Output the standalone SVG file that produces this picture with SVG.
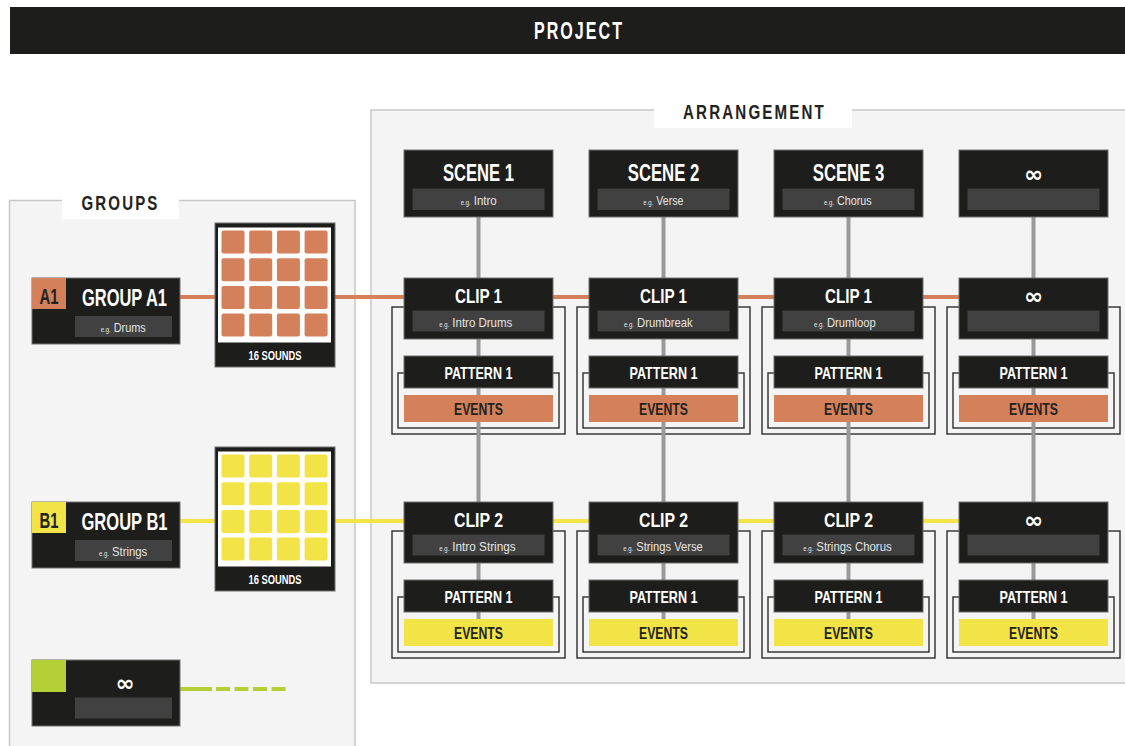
<svg xmlns="http://www.w3.org/2000/svg" xmlns:xlink="http://www.w3.org/1999/xlink" width="1125" height="746" viewBox="0 0 1125 746">
<style>
.node{fill:#1d1d1b;stroke:#707070;stroke-width:1}
.sub{fill:#414141}
.panel{fill:#f4f4f4;stroke:#c8c8c8;stroke-width:1.5}
.lbl{fill:#ffffff}
.t{font-family:"Liberation Sans",Arial,sans-serif;font-weight:bold;fill:#ffffff;text-anchor:middle}
.dk{fill:#222220}
.s{font-family:"Liberation Sans",Arial,sans-serif;fill:#e4e4e4;text-anchor:start;font-size:13px}
.eg{font-family:"Liberation Sans",Arial,sans-serif;fill:#e4e4e4;text-anchor:start;font-size:8px}
.ol{fill:none;stroke:#3a3a3a;stroke-width:1.5}
.inf{font-family:"DejaVu Sans",sans-serif;font-weight:bold;fill:#ffffff;text-anchor:middle;font-size:23px}
.vc{stroke:#999999;stroke-width:4}
.or{fill:#d4805a}
.ye{fill:#f2e447}
.li{fill:#b5cf36}
.white{fill:#ffffff}
</style>
<defs>
<g id="padgrid">
<rect x="3.5" y="3" width="23" height="23" rx="2"/><rect x="31.2" y="3" width="23" height="23" rx="2"/><rect x="58.9" y="3" width="23" height="23" rx="2"/><rect x="86.6" y="3" width="23" height="23" rx="2"/>
<rect x="3.5" y="30.7" width="23" height="23" rx="2"/><rect x="31.2" y="30.7" width="23" height="23" rx="2"/><rect x="58.9" y="30.7" width="23" height="23" rx="2"/><rect x="86.6" y="30.7" width="23" height="23" rx="2"/>
<rect x="3.5" y="58.4" width="23" height="23" rx="2"/><rect x="31.2" y="58.4" width="23" height="23" rx="2"/><rect x="58.9" y="58.4" width="23" height="23" rx="2"/><rect x="86.6" y="58.4" width="23" height="23" rx="2"/>
<rect x="3.5" y="86.1" width="23" height="23" rx="2"/><rect x="31.2" y="86.1" width="23" height="23" rx="2"/><rect x="58.9" y="86.1" width="23" height="23" rx="2"/><rect x="86.6" y="86.1" width="23" height="23" rx="2"/>
</g>
</defs>
<rect x="0" y="0" width="1125" height="746" fill="#ffffff"/>

<g id="project">
<rect x="10" y="7" width="1120" height="47" fill="#1d1d1b"/>
<text class="t" x="579" y="39" font-size="24" letter-spacing="3" textLength="90" lengthAdjust="spacingAndGlyphs">PROJECT</text>
</g>

<g id="groups-panel">
<rect class="panel" x="9.5" y="200.5" width="345.5" height="570"/>
<rect class="lbl" x="62" y="188" width="117" height="31"/>
<text class="t dk" x="120.5" y="210" font-size="21" letter-spacing="3" textLength="78" lengthAdjust="spacingAndGlyphs">GROUPS</text>
</g>

<g id="arrangement-panel">
<rect class="panel" x="371" y="110" width="770" height="573"/>
<rect class="lbl" x="654" y="97" width="198" height="31"/>
<text class="t dk" x="754.5" y="119" font-size="21" letter-spacing="3" textLength="143" lengthAdjust="spacingAndGlyphs">ARRANGEMENT</text>
</g>

<g id="clip-outlines">
<rect class="ol" x="392" y="307" width="173" height="127"/><rect class="ol" x="398" y="373" width="161" height="55"/>
<rect class="ol" x="577" y="307" width="173" height="127"/><rect class="ol" x="583" y="373" width="161" height="55"/>
<rect class="ol" x="762" y="307" width="173" height="127"/><rect class="ol" x="768" y="373" width="161" height="55"/>
<rect class="ol" x="947" y="307" width="173" height="127"/><rect class="ol" x="953" y="373" width="161" height="55"/>
<rect class="ol" x="392" y="531" width="173" height="127"/><rect class="ol" x="398" y="597" width="161" height="55"/>
<rect class="ol" x="577" y="531" width="173" height="127"/><rect class="ol" x="583" y="597" width="161" height="55"/>
<rect class="ol" x="762" y="531" width="173" height="127"/><rect class="ol" x="768" y="597" width="161" height="55"/>
<rect class="ol" x="947" y="531" width="173" height="127"/><rect class="ol" x="953" y="597" width="161" height="55"/>
</g>

<g id="connectors">
<line class="vc" x1="478.5" y1="217" x2="478.5" y2="630"/>
<line class="vc" x1="663.5" y1="217" x2="663.5" y2="630"/>
<line class="vc" x1="848.5" y1="217" x2="848.5" y2="630"/>
<line class="vc" x1="1033.5" y1="217" x2="1033.5" y2="630"/>
<line x1="180" y1="297" x2="960" y2="297" stroke="#d4805a" stroke-width="4"/>
<line x1="180" y1="521" x2="960" y2="521" stroke="#f2e447" stroke-width="4"/>
<line x1="180" y1="689" x2="212" y2="689" stroke="#b5cf36" stroke-width="4"/>
<line x1="216" y1="689" x2="287" y2="689" stroke="#b5cf36" stroke-width="4" stroke-dasharray="14 4.5"/>
</g>

<g id="group-a1">
<rect class="node" x="32" y="278" width="148" height="66"/>
<rect class="or" x="32" y="278" width="34" height="31"/>
<text class="t dk" x="49" y="304" font-size="22" textLength="19" lengthAdjust="spacingAndGlyphs">A1</text>
<text class="t" x="124.5" y="306" font-size="23" textLength="85" lengthAdjust="spacingAndGlyphs">GROUP A1</text>
<rect class="sub" x="75" y="316" width="97" height="21"/>
<text class="eg" x="100.7" y="332" textLength="10" lengthAdjust="spacingAndGlyphs">e.g.</text>
<text class="s" x="113.7" y="332" textLength="32" lengthAdjust="spacingAndGlyphs">Drums</text>
</g>

<g id="sounds-a1">
<rect class="node" x="215" y="223" width="120" height="144"/>
<rect class="white" x="218" y="227.5" width="113" height="115"/>
<use xlink:href="#padgrid" x="218" y="227.5" fill="#d4805a"/>
<text class="t" x="275" y="360" font-size="12.5" textLength="53" lengthAdjust="spacingAndGlyphs">16 SOUNDS</text>
</g>

<g id="group-b1">
<rect class="node" x="32" y="502" width="148" height="66"/>
<rect class="ye" x="32" y="502" width="34" height="31"/>
<text class="t dk" x="49" y="528" font-size="22" textLength="19" lengthAdjust="spacingAndGlyphs">B1</text>
<text class="t" x="124.5" y="530" font-size="23" textLength="86" lengthAdjust="spacingAndGlyphs">GROUP B1</text>
<rect class="sub" x="75" y="540" width="97" height="21"/>
<text class="eg" x="99" y="556" textLength="10" lengthAdjust="spacingAndGlyphs">e.g.</text>
<text class="s" x="112" y="556" textLength="35.3" lengthAdjust="spacingAndGlyphs">Strings</text>
</g>

<g id="sounds-b1">
<rect class="node" x="215" y="447" width="120" height="144"/>
<rect class="white" x="218" y="451.5" width="113" height="115"/>
<use xlink:href="#padgrid" x="218" y="451.5" fill="#f2e447"/>
<text class="t" x="275" y="584" font-size="12.5" textLength="53" lengthAdjust="spacingAndGlyphs">16 SOUNDS</text>
</g>

<g id="group-more">
<rect class="node" x="32" y="660" width="148" height="66"/>
<rect class="li" x="32" y="660" width="34" height="32"/>
<text class="inf" x="125" y="691">∞</text>
<rect class="sub" x="75" y="697.5" width="97" height="21"/>
</g>

<g id="scene-1">
<rect class="node" x="404" y="150" width="149" height="67"/>
<rect class="sub" x="412.5" y="188.5" width="132" height="21.5"/>
<text class="t" x="478.5" y="181" font-size="24" textLength="71" lengthAdjust="spacingAndGlyphs">SCENE 1</text>
<text class="eg" x="460.7" y="205" textLength="10" lengthAdjust="spacingAndGlyphs">e.g.</text>
<text class="s" x="473.7" y="205" textLength="23" lengthAdjust="spacingAndGlyphs">Intro</text>
</g>
<g id="scene-2">
<rect class="node" x="589" y="150" width="149" height="67"/>
<rect class="sub" x="597.5" y="188.5" width="132" height="21.5"/>
<text class="t" x="663.5" y="181" font-size="24" textLength="71.5" lengthAdjust="spacingAndGlyphs">SCENE 2</text>
<text class="eg" x="643.3" y="205" textLength="10" lengthAdjust="spacingAndGlyphs">e.g.</text>
<text class="s" x="656.3" y="205" textLength="27" lengthAdjust="spacingAndGlyphs">Verse</text>
</g>
<g id="scene-3">
<rect class="node" x="774" y="150" width="149" height="67"/>
<rect class="sub" x="782.5" y="188.5" width="132" height="21.5"/>
<text class="t" x="848.5" y="181" font-size="24" textLength="71.5" lengthAdjust="spacingAndGlyphs">SCENE 3</text>
<text class="eg" x="824" y="205" textLength="10" lengthAdjust="spacingAndGlyphs">e.g.</text>
<text class="s" x="837" y="205" textLength="34.7" lengthAdjust="spacingAndGlyphs">Chorus</text>
</g>
<g id="scene-more">
<rect class="node" x="959" y="150" width="149" height="67"/>
<rect class="sub" x="967.5" y="188.5" width="132" height="21.5"/>
<text class="inf" x="1033.5" y="182">∞</text>
</g>

<g id="clip-a1-1">
<rect class="node" x="404" y="278" width="149" height="61"/>
<rect class="sub" x="412.5" y="310.5" width="132" height="21"/>
<text class="t" x="478.5" y="302.5" font-size="20" textLength="47" lengthAdjust="spacingAndGlyphs">CLIP 1</text>
<text class="eg" x="439.3" y="326.5" textLength="10" lengthAdjust="spacingAndGlyphs">e.g.</text>
<text class="s" x="452.3" y="326.5" textLength="60" lengthAdjust="spacingAndGlyphs">Intro Drums</text>
</g>
<g id="clip-a1-2">
<rect class="node" x="589" y="278" width="149" height="61"/>
<rect class="sub" x="597.5" y="310.5" width="132" height="21"/>
<text class="t" x="663.5" y="302.5" font-size="20" textLength="47" lengthAdjust="spacingAndGlyphs">CLIP 1</text>
<text class="eg" x="624" y="326.5" textLength="10" lengthAdjust="spacingAndGlyphs">e.g.</text>
<text class="s" x="637" y="326.5" textLength="55.7" lengthAdjust="spacingAndGlyphs">Drumbreak</text>
</g>
<g id="clip-a1-3">
<rect class="node" x="774" y="278" width="149" height="61"/>
<rect class="sub" x="782.5" y="310.5" width="132" height="21"/>
<text class="t" x="848.5" y="302.5" font-size="20" textLength="47" lengthAdjust="spacingAndGlyphs">CLIP 1</text>
<text class="eg" x="814" y="326.5" textLength="10" lengthAdjust="spacingAndGlyphs">e.g.</text>
<text class="s" x="827" y="326.5" textLength="48.7" lengthAdjust="spacingAndGlyphs">Drumloop</text>
</g>
<g id="clip-a1-more">
<rect class="node" x="959" y="278" width="149" height="61"/>
<rect class="sub" x="967.5" y="310.5" width="132" height="21"/>
<text class="inf" x="1033.5" y="303.5">∞</text>
</g>

<g id="pattern-a1-1">
<rect class="node" x="404" y="356" width="149" height="32"/>
<text class="t" x="478.5" y="379" font-size="17" textLength="68" lengthAdjust="spacingAndGlyphs">PATTERN 1</text>
<rect class="or" x="404" y="395" width="149" height="27"/>
<text class="t dk" x="478.5" y="415" font-size="17" textLength="49" lengthAdjust="spacingAndGlyphs">EVENTS</text>
</g>
<g id="pattern-a1-2">
<rect class="node" x="589" y="356" width="149" height="32"/>
<text class="t" x="663.5" y="379" font-size="17" textLength="68" lengthAdjust="spacingAndGlyphs">PATTERN 1</text>
<rect class="or" x="589" y="395" width="149" height="27"/>
<text class="t dk" x="663.5" y="415" font-size="17" textLength="49" lengthAdjust="spacingAndGlyphs">EVENTS</text>
</g>
<g id="pattern-a1-3">
<rect class="node" x="774" y="356" width="149" height="32"/>
<text class="t" x="848.5" y="379" font-size="17" textLength="68" lengthAdjust="spacingAndGlyphs">PATTERN 1</text>
<rect class="or" x="774" y="395" width="149" height="27"/>
<text class="t dk" x="848.5" y="415" font-size="17" textLength="49" lengthAdjust="spacingAndGlyphs">EVENTS</text>
</g>
<g id="pattern-a1-more">
<rect class="node" x="959" y="356" width="149" height="32"/>
<text class="t" x="1033.5" y="379" font-size="17" textLength="68" lengthAdjust="spacingAndGlyphs">PATTERN 1</text>
<rect class="or" x="959" y="395" width="149" height="27"/>
<text class="t dk" x="1033.5" y="415" font-size="17" textLength="49" lengthAdjust="spacingAndGlyphs">EVENTS</text>
</g>

<g id="clip-b1-1">
<rect class="node" x="404" y="502" width="149" height="61"/>
<rect class="sub" x="412.5" y="534.5" width="132" height="21"/>
<text class="t" x="478.5" y="526.5" font-size="20" textLength="49" lengthAdjust="spacingAndGlyphs">CLIP 2</text>
<text class="eg" x="439.3" y="550.5" textLength="10" lengthAdjust="spacingAndGlyphs">e.g.</text>
<text class="s" x="452.3" y="550.5" textLength="63.4" lengthAdjust="spacingAndGlyphs">Intro Strings</text>
</g>
<g id="clip-b1-2">
<rect class="node" x="589" y="502" width="149" height="61"/>
<rect class="sub" x="597.5" y="534.5" width="132" height="21"/>
<text class="t" x="663.5" y="526.5" font-size="20" textLength="49" lengthAdjust="spacingAndGlyphs">CLIP 2</text>
<text class="eg" x="623.3" y="550.5" textLength="10" lengthAdjust="spacingAndGlyphs">e.g.</text>
<text class="s" x="636.3" y="550.5" textLength="66.4" lengthAdjust="spacingAndGlyphs">Strings Verse</text>
</g>
<g id="clip-b1-3">
<rect class="node" x="774" y="502" width="149" height="61"/>
<rect class="sub" x="782.5" y="534.5" width="132" height="21"/>
<text class="t" x="848.5" y="526.5" font-size="20" textLength="49" lengthAdjust="spacingAndGlyphs">CLIP 2</text>
<text class="eg" x="803.3" y="550.5" textLength="10" lengthAdjust="spacingAndGlyphs">e.g.</text>
<text class="s" x="816.3" y="550.5" textLength="75.4" lengthAdjust="spacingAndGlyphs">Strings Chorus</text>
</g>
<g id="clip-b1-more">
<rect class="node" x="959" y="502" width="149" height="61"/>
<rect class="sub" x="967.5" y="534.5" width="132" height="21"/>
<text class="inf" x="1033.5" y="527.5">∞</text>
</g>

<g id="pattern-b1-1">
<rect class="node" x="404" y="580" width="149" height="32"/>
<text class="t" x="478.5" y="603" font-size="17" textLength="68" lengthAdjust="spacingAndGlyphs">PATTERN 1</text>
<rect class="ye" x="404" y="619" width="149" height="27"/>
<text class="t dk" x="478.5" y="639" font-size="17" textLength="49" lengthAdjust="spacingAndGlyphs">EVENTS</text>
</g>
<g id="pattern-b1-2">
<rect class="node" x="589" y="580" width="149" height="32"/>
<text class="t" x="663.5" y="603" font-size="17" textLength="68" lengthAdjust="spacingAndGlyphs">PATTERN 1</text>
<rect class="ye" x="589" y="619" width="149" height="27"/>
<text class="t dk" x="663.5" y="639" font-size="17" textLength="49" lengthAdjust="spacingAndGlyphs">EVENTS</text>
</g>
<g id="pattern-b1-3">
<rect class="node" x="774" y="580" width="149" height="32"/>
<text class="t" x="848.5" y="603" font-size="17" textLength="68" lengthAdjust="spacingAndGlyphs">PATTERN 1</text>
<rect class="ye" x="774" y="619" width="149" height="27"/>
<text class="t dk" x="848.5" y="639" font-size="17" textLength="49" lengthAdjust="spacingAndGlyphs">EVENTS</text>
</g>
<g id="pattern-b1-more">
<rect class="node" x="959" y="580" width="149" height="32"/>
<text class="t" x="1033.5" y="603" font-size="17" textLength="68" lengthAdjust="spacingAndGlyphs">PATTERN 1</text>
<rect class="ye" x="959" y="619" width="149" height="27"/>
<text class="t dk" x="1033.5" y="639" font-size="17" textLength="49" lengthAdjust="spacingAndGlyphs">EVENTS</text>
</g>
</svg>
